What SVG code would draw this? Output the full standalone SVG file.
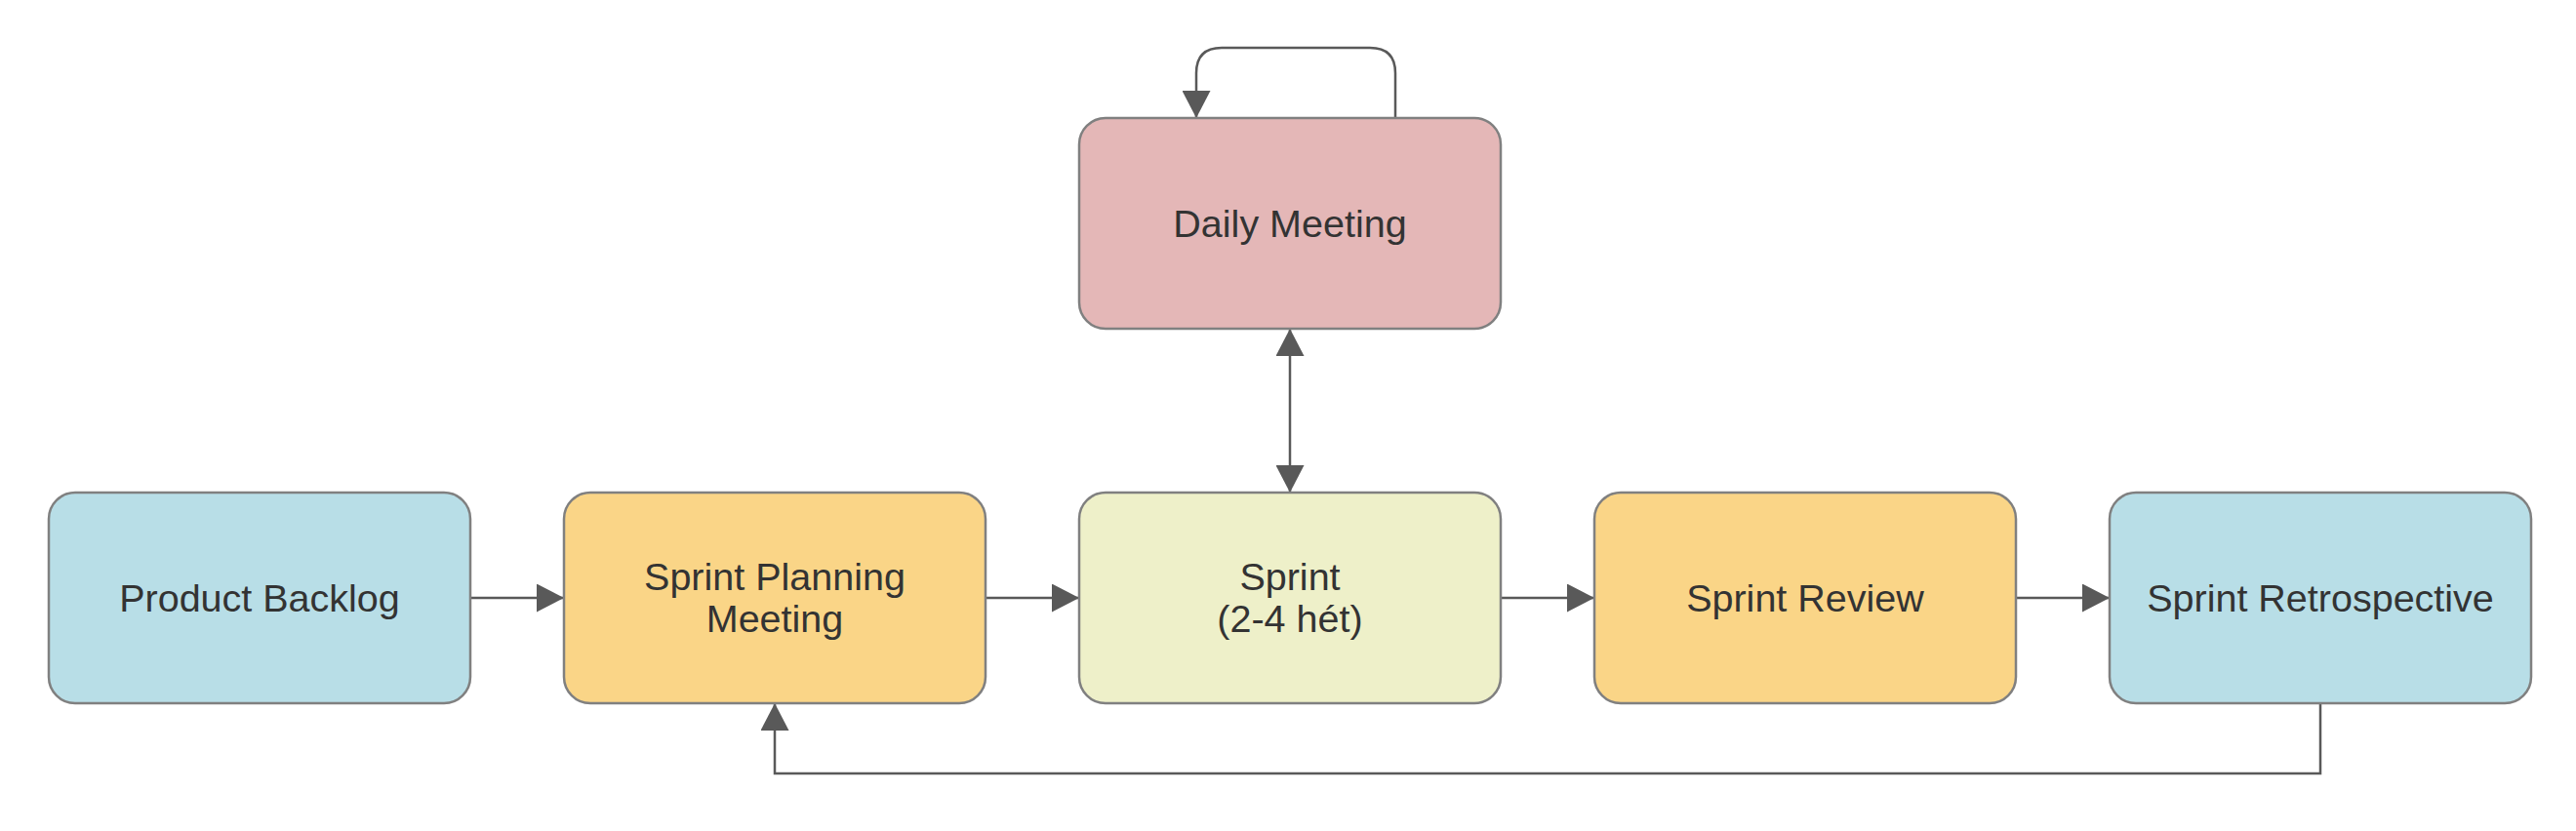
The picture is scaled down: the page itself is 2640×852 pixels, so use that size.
<svg xmlns="http://www.w3.org/2000/svg" width="2640" height="852" viewBox="0 0 2640 852">
<style>
.box{stroke:#808080;stroke-width:2.5}
.lbl{font-family:"Liberation Sans",Arial,sans-serif;font-size:39.5px;fill:#333333;text-anchor:middle}
.edge{fill:none;stroke:#595959;stroke-width:2.5}
.blue{fill:#b8dee7}.orange{fill:#fad587}.green{fill:#eef0c9}.pink{fill:#e4b7b7}
</style>
<defs>
<marker id="arr" viewBox="0 0 28 29" refX="28" refY="14.5" markerWidth="28" markerHeight="29" markerUnits="userSpaceOnUse" orient="auto-start-reverse">
<path d="M0,0 L28,14.5 L0,29 Z" fill="#595959"/>
</marker>
</defs>
<rect width="2640" height="852" fill="#ffffff"/>
<g id="connectors">
<path class="edge" d="M482,613 H578" marker-end="url(#arr)"/>
<path class="edge" d="M1010,613 H1106" marker-end="url(#arr)"/>
<path class="edge" d="M1538,613 H1634" marker-end="url(#arr)"/>
<path class="edge" d="M2066,613 H2162" marker-end="url(#arr)"/>
<path class="edge" d="M1322,337 V505" marker-start="url(#arr)" marker-end="url(#arr)"/>
<path class="edge" d="M1430,121 V75 Q1430,49 1404,49 H1252 Q1226,49 1226,75 V121" marker-end="url(#arr)"/>
<path class="edge" d="M2378,721 V793 H794 V721" marker-end="url(#arr)"/>
</g>
<g id="product-backlog">
<rect class="box blue" x="50" y="505" width="432" height="216" rx="27"/>
<text class="lbl" x="266" y="627">Product Backlog</text>
</g>
<g id="sprint-planning">
<rect class="box orange" x="578" y="505" width="432" height="216" rx="27"/>
<text class="lbl" x="794" y="605">Sprint Planning</text>
<text class="lbl" x="794" y="648">Meeting</text>
</g>
<g id="sprint">
<rect class="box green" x="1106" y="505" width="432" height="216" rx="27"/>
<text class="lbl" x="1322" y="605">Sprint</text>
<text class="lbl" x="1322" y="648">(2-4 hét)</text>
</g>
<g id="sprint-review">
<rect class="box orange" x="1634" y="505" width="432" height="216" rx="27"/>
<text class="lbl" x="1850" y="627">Sprint Review</text>
</g>
<g id="sprint-retrospective">
<rect class="box blue" x="2162" y="505" width="432" height="216" rx="27"/>
<text class="lbl" x="2378" y="627">Sprint Retrospective</text>
</g>
<g id="daily-meeting">
<rect class="box pink" x="1106" y="121" width="432" height="216" rx="27"/>
<text class="lbl" x="1322" y="243">Daily Meeting</text>
</g>
</svg>
